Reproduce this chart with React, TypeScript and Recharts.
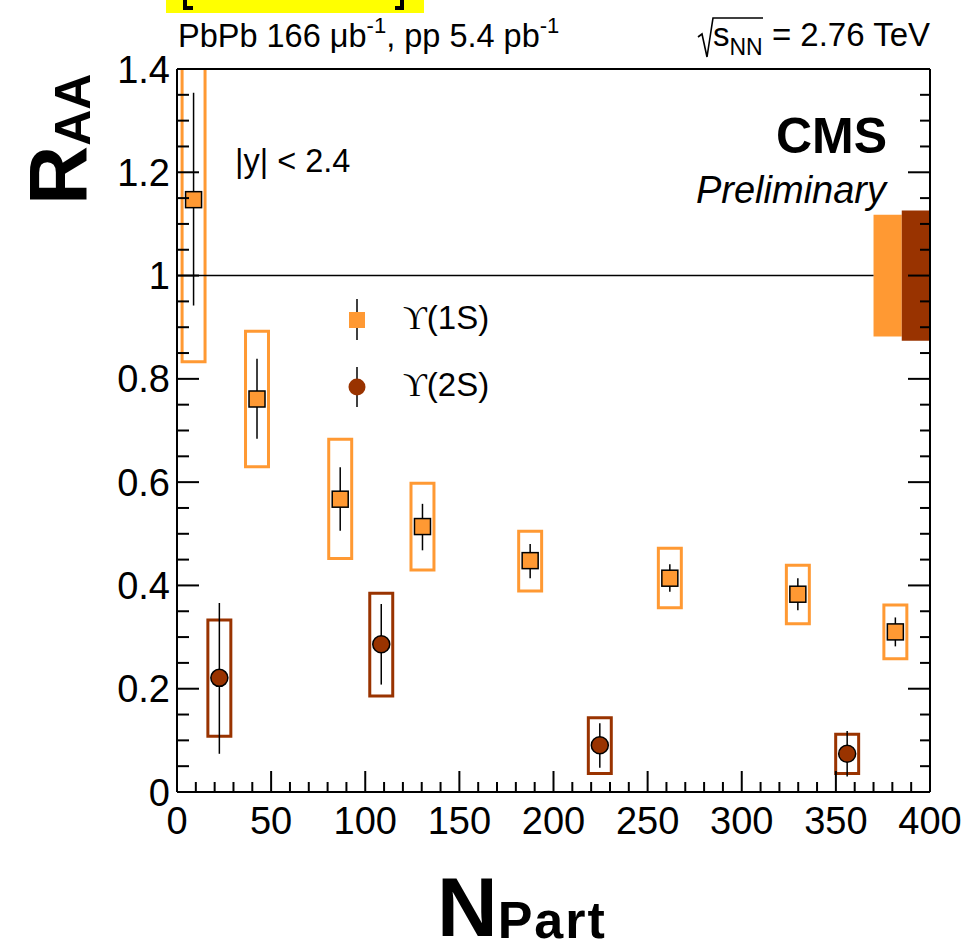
import React from "react";
import {
  ComposedChart,
  XAxis,
  YAxis,
  Scatter,
  ErrorBar,
  ReferenceArea,
  ReferenceLine,
  Legend,
} from "recharts";

// Upsilon(1S)
const npart1S = [8.8, 42.5, 86.7, 130.4, 187.6, 261.8, 329.8, 381.6];
const raa1S = [1.147, 0.761, 0.567, 0.514, 0.448, 0.414, 0.383, 0.31];
const statLo1S = [0.942, 0.684, 0.506, 0.468, 0.414, 0.388, 0.352, 0.282];
const statHi1S = [1.354, 0.839, 0.629, 0.558, 0.48, 0.441, 0.414, 0.338];
const systLo1S = [0.833, 0.63, 0.452, 0.43, 0.389, 0.357, 0.326, 0.258];
const systHi1S = [1.46, 0.892, 0.683, 0.598, 0.505, 0.472, 0.439, 0.362];

// Upsilon(2S)
const npart2S = [22.5, 108.5, 224.6, 356];
const raa2S = [0.221, 0.286, 0.0905, 0.074];
const statLo2S = [0.074, 0.208, 0.047, 0.03];
const statHi2S = [0.366, 0.364, 0.133, 0.118];
const systLo2S = [0.108, 0.186, 0.036, 0.036];
const systHi2S = [0.333, 0.385, 0.144, 0.112];

// global uncertainties around unity (1S, 2S)
const globalX = [
  [370, 385],
  [385, 400],
];
const globalUnc = [0.118, 0.126];

const xLabels = [0, 50, 100, 150, 200, 250, 300, 350, 400];
const yLabels = [0, 0.2, 0.4, 0.6, 0.8, 1, 1.2, 1.4];
const xTicks = Array.from({ length: 41 }, (_, i) => i * 10);
const yTicks = Array.from({ length: 29 }, (_, i) => (i * 5) / 100);

const FONT = "'Liberation Sans', Arial, Helvetica, sans-serif";
const SERIF = "'Liberation Serif', 'DejaVu Serif', serif";
const ORANGE = "#ff9933";
const BROWN = "#993300";
const BOX_HALF = 6.1;

const build = (
  xs: number[],
  ys: number[],
  lo: number[],
  hi: number[],
  sLo: number[],
  sHi: number[]
) =>
  xs.map((x, i) => ({
    x,
    y: ys[i],
    err: [ys[i] - lo[i], hi[i] - ys[i]],
    sLo: sLo[i],
    sHi: sHi[i],
  }));

const data1S = build(npart1S, raa1S, statLo1S, statHi1S, systLo1S, systHi1S);
const data2S = build(npart2S, raa2S, statLo2S, statHi2S, systLo2S, systHi2S);

const isMajorX = (v: number) => xLabels.includes(v);
const isMajorY = (v: number) => yLabels.some((l) => Math.abs(l - v) < 1e-6);
const fmtY = (v: number) => String(Math.round(v * 10) / 10);

const BottomTick = (p: any) => {
  const major = isMajorX(p.payload.value);
  return (
    <g>
      <line x1={p.x} y1={p.y} x2={p.x} y2={p.y - (major ? 21 : 10)} stroke="#000" strokeWidth={2} />
      {major && (
        <text x={p.x} y={p.y + 42} textAnchor="middle" fontSize={38} fontFamily={FONT} fill="#000">
          {p.payload.value}
        </text>
      )}
    </g>
  );
};

const TopTick = (p: any) => {
  const major = isMajorX(p.payload.value);
  return <line x1={p.x} y1={p.y} x2={p.x} y2={p.y + (major ? 21 : 11)} stroke="#000" strokeWidth={2} />;
};

const LeftTick = (p: any) => {
  const major = isMajorY(p.payload.value);
  return (
    <g>
      <line x1={p.x} y1={p.y} x2={p.x + (major ? 22 : 12)} y2={p.y} stroke="#000" strokeWidth={2} />
      {major && (
        <text x={p.x - 7} y={p.y + 13.5} textAnchor="end" fontSize={38} fontFamily={FONT} fill="#000">
          {fmtY(p.payload.value)}
        </text>
      )}
    </g>
  );
};

const RightTick = (p: any) => {
  const major = isMajorY(p.payload.value);
  return <line x1={p.x} y1={p.y} x2={p.x - (major ? 22 : 10)} y2={p.y} stroke="#000" strokeWidth={2} />;
};

const Square = (p: any) => (
  <rect x={p.cx - 8} y={p.cy - 8} width={16} height={16} fill={ORANGE} stroke="#000" strokeWidth={1.5} />
);
const Dot = (p: any) => <circle cx={p.cx} cy={p.cy} r={8.5} fill={BROWN} stroke="#000" strokeWidth={1.5} />;

const LegendBox = () => (
  <svg width={200} height={135} style={{ display: "block" }}>
    <line x1={27} y1={14} x2={27} y2={55} stroke="#000" strokeWidth={1.5} />
    <rect x={19} y={27} width={16} height={16} fill={ORANGE} />
    <text x={73} y={44} fontSize={33} fontFamily={FONT}>
      <tspan fontFamily={SERIF}>ϒ</tspan>(1S)
    </text>
    <line x1={27} y1={82} x2={27} y2={122} stroke="#000" strokeWidth={1.5} />
    <circle cx={27} cy={102} r={8.5} fill={BROWN} />
    <text x={73} y={111} fontSize={33} fontFamily={FONT}>
      <tspan fontFamily={SERIF}>ϒ</tspan>(2S)
    </text>
  </svg>
);

const Overlay = () => (
  <svg
    width={967}
    height={945}
    style={{ position: "absolute", left: 0, top: 0, pointerEvents: "none" }}
    fontFamily={FONT}
  >
    <rect x={166} y={0} width={258} height={13} fill="#ffff00" />
    <path d="M185,0 V8 H193 M402,0 V8 H395" stroke="#000" strokeWidth={4} fill="none" />
    <text x={178} y={47} fontSize={32.5}>
      PbPb 166 μb<tspan dy={-14} fontSize={22}>-1</tspan>
      <tspan dy={14}>, pp 5.4 pb</tspan>
      <tspan dy={-14} fontSize={22}>-1</tspan>
    </text>
    <path d="M698,37 L702,34 L707,57 L713,18 L763,18" stroke="#000" strokeWidth={1.6} fill="none" />
    <text x={713} y={46} fontSize={33}>
      s<tspan dy={9} fontSize={23}>NN</tspan>
      <tspan dy={-9}> = 2.76 TeV</tspan>
    </text>
    <text x={887} y={153} fontSize={50} fontWeight="bold" textAnchor="end">
      CMS
    </text>
    <text x={886} y={203} fontSize={38} fontStyle="italic" textAnchor="end">
      Preliminary
    </text>
    <text x={235} y={172} fontSize={32.5}>
      |y| &lt; 2.4
    </text>
    <text transform="translate(86,205) rotate(-90)" fontSize={82} fontWeight="bold">
      R<tspan fontSize={50} dy={4}>AA</tspan>
    </text>
    <text x={437} y={936} fontSize={84} fontWeight="bold">
      N<tspan fontSize={52} dy={2} letterSpacing={2}>Part</tspan>
    </text>
  </svg>
);

export default function App() {
  return (
    <div style={{ position: "absolute", left: 0, top: 0, width: 967, height: 945, background: "#fff" }}>
      <ComposedChart width={967} height={945} margin={{ top: 68, right: 36, bottom: 152, left: 176 }}>
        <XAxis
          xAxisId="b"
          type="number"
          dataKey="x"
          domain={[0, 400]}
          ticks={xTicks}
          interval={0}
          height={1}
          tickSize={0}
          tickMargin={0}
          tickLine={false}
          tick={BottomTick}
          axisLine={{ stroke: "#000", strokeWidth: 2 }}
          allowDataOverflow
        />
        <XAxis
          xAxisId="t"
          orientation="top"
          type="number"
          domain={[0, 400]}
          ticks={xTicks}
          interval={0}
          height={1}
          tickSize={0}
          tickMargin={0}
          tickLine={false}
          tick={TopTick}
          axisLine={{ stroke: "#000", strokeWidth: 2 }}
          allowDataOverflow
        />
        <YAxis
          yAxisId="l"
          type="number"
          dataKey="y"
          domain={[0, 1.4]}
          ticks={yTicks}
          interval={0}
          width={1}
          tickSize={0}
          tickMargin={0}
          tickLine={false}
          tick={LeftTick}
          axisLine={{ stroke: "#000", strokeWidth: 2 }}
          allowDataOverflow
        />
        <YAxis
          yAxisId="r"
          orientation="right"
          type="number"
          domain={[0, 1.4]}
          ticks={yTicks}
          interval={0}
          width={1}
          tickSize={0}
          tickMargin={0}
          tickLine={false}
          tick={RightTick}
          axisLine={{ stroke: "#000", strokeWidth: 2 }}
          allowDataOverflow
        />
        <ReferenceLine
          xAxisId="b"
          yAxisId="l"
          segment={[
            { x: 0, y: 1 },
            { x: globalX[0][0], y: 1 },
          ]}
          stroke="#000"
          strokeWidth={1.5}
        />
        {globalX.map((gx, i) => (
          <ReferenceArea
            key={`g${i}`}
            xAxisId="b"
            yAxisId="l"
            x1={gx[0]}
            x2={gx[1]}
            y1={1 - globalUnc[i]}
            y2={1 + globalUnc[i]}
            fill={i === 0 ? ORANGE : BROWN}
            fillOpacity={1}
            stroke="none"
            ifOverflow="hidden"
          />
        ))}
        {data1S.map((d, i) => (
          <ReferenceArea
            key={`s1${i}`}
            xAxisId="b"
            yAxisId="l"
            x1={d.x - BOX_HALF}
            x2={d.x + BOX_HALF}
            y1={d.sLo}
            y2={d.sHi}
            fill="none"
            fillOpacity={1}
            stroke={ORANGE}
            strokeWidth={3}
            ifOverflow="hidden"
          />
        ))}
        {data2S.map((d, i) => (
          <ReferenceArea
            key={`s2${i}`}
            xAxisId="b"
            yAxisId="l"
            x1={d.x - BOX_HALF}
            x2={d.x + BOX_HALF}
            y1={d.sLo}
            y2={d.sHi}
            fill="none"
            fillOpacity={1}
            stroke={BROWN}
            strokeWidth={3}
            ifOverflow="hidden"
          />
        ))}
        <Scatter
          name="ϒ(1S)"
          xAxisId="b"
          yAxisId="l"
          data={data1S}
          dataKey="y"
          shape={Square}
          isAnimationActive={false}
        >
          <ErrorBar dataKey="err" direction="y" width={0} stroke="#000" strokeWidth={1.5} />
        </Scatter>
        <Scatter
          name="ϒ(2S)"
          xAxisId="b"
          yAxisId="l"
          data={data2S}
          dataKey="y"
          shape={Dot}
          isAnimationActive={false}
        >
          <ErrorBar dataKey="err" direction="y" width={0} stroke="#000" strokeWidth={1.5} />
        </Scatter>
        <Legend
          layout="vertical"
          align="center"
          verticalAlign="middle"
          wrapperStyle={{ position: "absolute", left: 330, top: 285, width: 200, height: 135 }}
          content={() => <LegendBox />}
        />
      </ComposedChart>
      <Overlay />
    </div>
  );
}
